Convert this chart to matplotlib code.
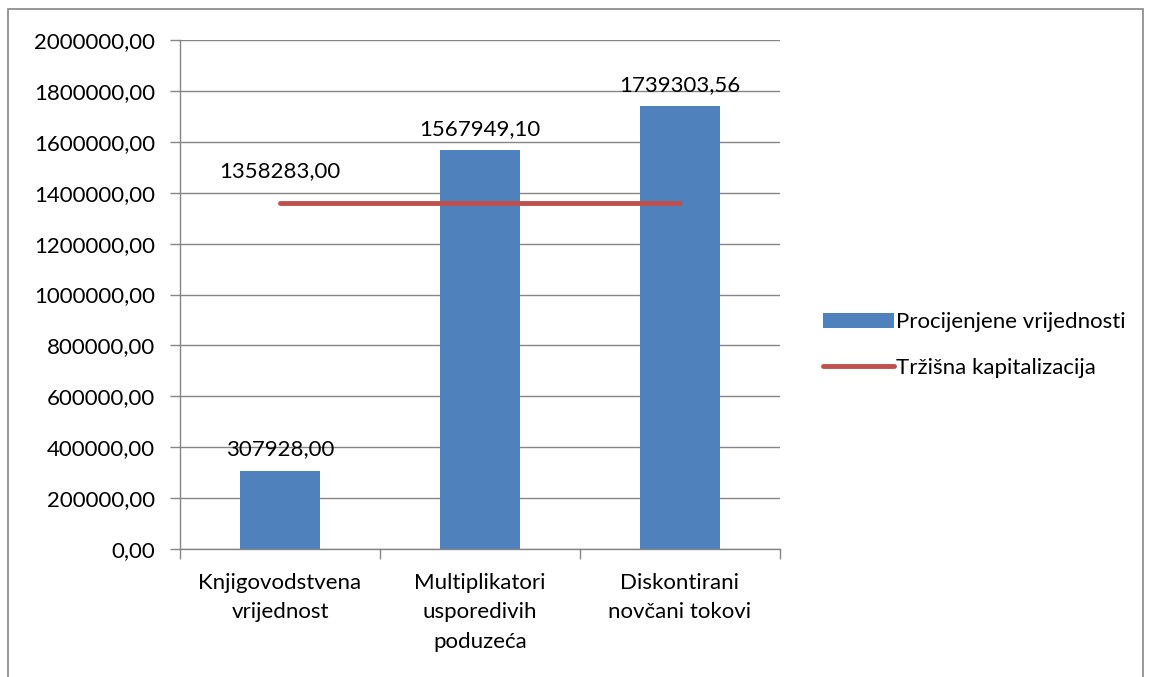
import matplotlib
matplotlib.use("Agg")
import matplotlib.pyplot as plt
from matplotlib.patches import Rectangle

plt.rcParams['font.family'] = ['Lato', 'DejaVu Sans']

categories = ["Knjigovodstvena\nvrijednost", "Multiplikatori\nusporedivih\npoduzeća", "Diskontirani\nnovčani tokovi"]
procijenjene = [307928.00, 1567949.10, 1739303.56]
trzisna = [1358283.00, 1358283.00, 1358283.00]
yticks = list(range(0, 2000001, 200000))

def fmt(v):
    return f"{v:.2f}".replace(".", ",")

FS = 16

fig = plt.figure(figsize=(11.51, 6.77), dpi=100)
fig.patches.append(Rectangle((8/1151, -0.05), 1135/1151, 1.05 - 9/677, transform=fig.transFigure,
                             fill=False, edgecolor='#868686', linewidth=1.2))
ax = fig.add_axes([180/1151, 1 - 549/677, 600/1151, 509/677])

x = list(range(len(categories)))
bar_col = '#4F81BD'
line_col = '#C0504D'
hb = ax.bar(x, procijenjene, width=0.4, color=bar_col, label='Procijenjene vrijednosti', zorder=2)
hl, = ax.plot(x, trzisna, color=line_col, linewidth=3.5, solid_capstyle='round', label='Tržišna kapitalizacija', zorder=3)

for xi, v in zip(x, procijenjene):
    ax.annotate(fmt(v), (xi, v), xytext=(0, 8), textcoords='offset points', ha='center', va='bottom', fontsize=FS)
ax.annotate(fmt(trzisna[0]), (x[0], trzisna[0]), xytext=(0, 16), textcoords='offset points', ha='center', va='bottom', fontsize=FS)

ax.set_xlim(-0.5, 2.5)
ax.set_ylim(0, 2000000)
ax.set_yticks(yticks)
ax.set_yticklabels([fmt(v) for v in yticks], fontsize=FS)
ax.yaxis.grid(True, color='#868686', linewidth=1)
ax.set_axisbelow(True)

ax.set_xticks(x)
ax.set_xticklabels(categories, fontsize=FS, linespacing=1.6)
ax.tick_params(axis='x', length=0, pad=17)
ax.set_xticks([-0.5, 0.5, 1.5, 2.5], minor=True)
ax.tick_params(axis='x', which='minor', length=7, color='#868686', width=1)
ax.tick_params(axis='y', length=7, color='#868686', width=1, pad=11)

for s in ['top', 'right']:
    ax.spines[s].set_visible(False)
for s in ['left', 'bottom']:
    ax.spines[s].set_color('#868686')
    ax.spines[s].set_linewidth(1)

leg = fig.legend([hb, hl], ['Procijenjene vrijednosti', 'Tržišna kapitalizacija'],
                 loc='center left', bbox_to_anchor=(812/1151, 1 - 345/677), frameon=False, fontsize=FS,
                 handlelength=3.2, handletextpad=0.1, labelspacing=1.15, borderpad=0)

fig.savefig("out.png", dpi=100)
